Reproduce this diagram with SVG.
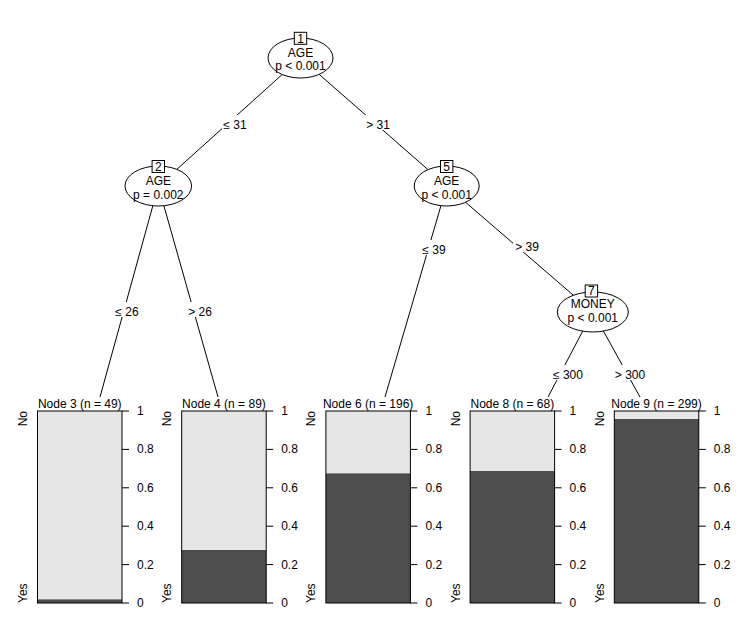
<svg xmlns="http://www.w3.org/2000/svg" width="750" height="623" viewBox="0 0 750 623">
<style>
text{font-family:"Liberation Sans",Arial,sans-serif;font-size:12px;fill:#000}
.c{text-anchor:middle}
.e{fill:none;stroke:#000;stroke-width:1}
.n{fill:#fff;stroke:#000;stroke-width:1}
.lb{fill:#fff;stroke:none}
.lt{fill:#e6e6e6;stroke:none}
.dk{fill:#4d4d4d;stroke:none}
.fr{fill:none;stroke:#000;stroke-width:1}
.tk{stroke:#000;stroke-width:1}
</style>
<rect width="750" height="623" fill="#fff"/>
<g id="edges">
<line class="e" x1="300.5" y1="58" x2="158.3" y2="186"/>
<line class="e" x1="300.5" y1="58" x2="446.7" y2="186"/>
<line class="e" x1="158.3" y1="186" x2="100" y2="397"/>
<line class="e" x1="158.3" y1="186" x2="218" y2="397"/>
<line class="e" x1="446.7" y1="186" x2="385" y2="397"/>
<line class="e" x1="446.7" y1="186" x2="592.8" y2="312"/>
<line class="e" x1="592.8" y1="312" x2="548" y2="397"/>
<line class="e" x1="592.8" y1="312" x2="640" y2="397"/>
<rect class="lb" x="222" y="115" width="27" height="15"/>
<text class="c" x="235" y="129">≤ 31</text>
<rect class="lb" x="365" y="115" width="27" height="15"/>
<text class="c" x="378" y="129">&gt; 31</text>
<rect class="lb" x="114" y="302" width="27" height="15"/>
<text class="c" x="127" y="316">≤ 26</text>
<rect class="lb" x="187" y="302" width="27" height="15"/>
<text class="c" x="200" y="316">&gt; 26</text>
<rect class="lb" x="420" y="240" width="27" height="15"/>
<text class="c" x="434" y="254">≤ 39</text>
<rect class="lb" x="513" y="237" width="27" height="15"/>
<text class="c" x="527" y="251">&gt; 39</text>
<rect class="lb" x="545" y="365" width="46" height="15"/>
<text class="c" x="568" y="379">≤ 300</text>
<rect class="lb" x="608" y="365" width="44" height="15"/>
<text class="c" x="630" y="379">&gt; 300</text>
</g>
<g id="node1">
<ellipse class="n" cx="300.5" cy="58" rx="32.5" ry="20"/>
<rect class="n" x="294.3" y="32.3" width="12.4" height="12"/>
<text class="c" x="300.5" y="42.6">1</text>
<text class="c" x="300.5" y="56.7">AGE</text>
<text class="c" x="300.5" y="70">p &lt; 0.001</text>
</g>
<g id="node2">
<ellipse class="n" cx="158.3" cy="186" rx="33.3" ry="20"/>
<rect class="n" x="152.1" y="160.5" width="12.4" height="12"/>
<text class="c" x="158.3" y="170.8">2</text>
<text class="c" x="158.3" y="185">AGE</text>
<text class="c" x="158.3" y="198.5">p = 0.002</text>
</g>
<g id="node5">
<ellipse class="n" cx="446.7" cy="186" rx="32.5" ry="20"/>
<rect class="n" x="440.5" y="160.5" width="12.4" height="12"/>
<text class="c" x="446.7" y="170.8">5</text>
<text class="c" x="446.7" y="185">AGE</text>
<text class="c" x="446.7" y="198.5">p &lt; 0.001</text>
</g>
<g id="node7">
<ellipse class="n" cx="592.8" cy="312" rx="35.5" ry="20"/>
<rect class="n" x="585.2" y="285" width="12.4" height="12"/>
<text class="c" x="591.4" y="295.3">7</text>
<text class="c" x="592.8" y="308.3">MONEY</text>
<text class="c" x="592.8" y="321.7">p &lt; 0.001</text>
</g>
<g id="node3">
<text class="c" x="79.75" y="408">Node 3 (n = 49)</text>
<rect class="lt" x="37.5" y="411" width="84.5" height="192"/>
<rect class="dk" x="37.5" y="599.4" width="84.5" height="3.6"/>
<rect class="fr" x="37.5" y="411" width="84.5" height="192"/>
<path class="tk" d="M122 411h7M122 449.4h7M122 487.8h7M122 526.2h7M122 564.6h7M122 603h7"/>
<text x="137" y="415">1</text><text x="137" y="453.4">0.8</text><text x="137" y="491.8">0.6</text><text x="137" y="530.2">0.4</text><text x="137" y="568.6">0.2</text><text x="137" y="607">0</text>
<text transform="translate(27,411) rotate(-90)" text-anchor="end">No</text>
<text transform="translate(27,603) rotate(-90)">Yes</text>
</g>
<g id="node4">
<text class="c" x="223.95" y="408">Node 4 (n = 89)</text>
<rect class="lt" x="181.7" y="411" width="84.5" height="192"/>
<rect class="dk" x="181.7" y="550" width="84.5" height="53"/>
<rect class="fr" x="181.7" y="411" width="84.5" height="192"/>
<path class="tk" d="M266.2 411h7M266.2 449.4h7M266.2 487.8h7M266.2 526.2h7M266.2 564.6h7M266.2 603h7"/>
<text x="281.2" y="415">1</text><text x="281.2" y="453.4">0.8</text><text x="281.2" y="491.8">0.6</text><text x="281.2" y="530.2">0.4</text><text x="281.2" y="568.6">0.2</text><text x="281.2" y="607">0</text>
<text transform="translate(171.2,411) rotate(-90)" text-anchor="end">No</text>
<text transform="translate(171.2,603) rotate(-90)">Yes</text>
</g>
<g id="node6">
<text class="c" x="368.15" y="408">Node 6 (n = 196)</text>
<rect class="lt" x="325.9" y="411" width="84.5" height="192"/>
<rect class="dk" x="325.9" y="473.4" width="84.5" height="129.6"/>
<rect class="fr" x="325.9" y="411" width="84.5" height="192"/>
<path class="tk" d="M410.4 411h7M410.4 449.4h7M410.4 487.8h7M410.4 526.2h7M410.4 564.6h7M410.4 603h7"/>
<text x="425.4" y="415">1</text><text x="425.4" y="453.4">0.8</text><text x="425.4" y="491.8">0.6</text><text x="425.4" y="530.2">0.4</text><text x="425.4" y="568.6">0.2</text><text x="425.4" y="607">0</text>
<text transform="translate(315.4,411) rotate(-90)" text-anchor="end">No</text>
<text transform="translate(315.4,603) rotate(-90)">Yes</text>
</g>
<g id="node8">
<text class="c" x="512.35" y="408">Node 8 (n = 68)</text>
<rect class="lt" x="470.1" y="411" width="84.5" height="192"/>
<rect class="dk" x="470.1" y="471" width="84.5" height="132"/>
<rect class="fr" x="470.1" y="411" width="84.5" height="192"/>
<path class="tk" d="M554.6 411h7M554.6 449.4h7M554.6 487.8h7M554.6 526.2h7M554.6 564.6h7M554.6 603h7"/>
<text x="569.6" y="415">1</text><text x="569.6" y="453.4">0.8</text><text x="569.6" y="491.8">0.6</text><text x="569.6" y="530.2">0.4</text><text x="569.6" y="568.6">0.2</text><text x="569.6" y="607">0</text>
<text transform="translate(459.6,411) rotate(-90)" text-anchor="end">No</text>
<text transform="translate(459.6,603) rotate(-90)">Yes</text>
</g>
<g id="node9">
<text class="c" x="656.55" y="408">Node 9 (n = 299)</text>
<rect class="lt" x="614.3" y="411" width="84.5" height="192"/>
<rect class="dk" x="614.3" y="419" width="84.5" height="184"/>
<rect class="fr" x="614.3" y="411" width="84.5" height="192"/>
<path class="tk" d="M698.8 411h7M698.8 449.4h7M698.8 487.8h7M698.8 526.2h7M698.8 564.6h7M698.8 603h7"/>
<text x="713.8" y="415">1</text><text x="713.8" y="453.4">0.8</text><text x="713.8" y="491.8">0.6</text><text x="713.8" y="530.2">0.4</text><text x="713.8" y="568.6">0.2</text><text x="713.8" y="607">0</text>
<text transform="translate(603.8,411) rotate(-90)" text-anchor="end">No</text>
<text transform="translate(603.8,603) rotate(-90)">Yes</text>
</g>
</svg>
